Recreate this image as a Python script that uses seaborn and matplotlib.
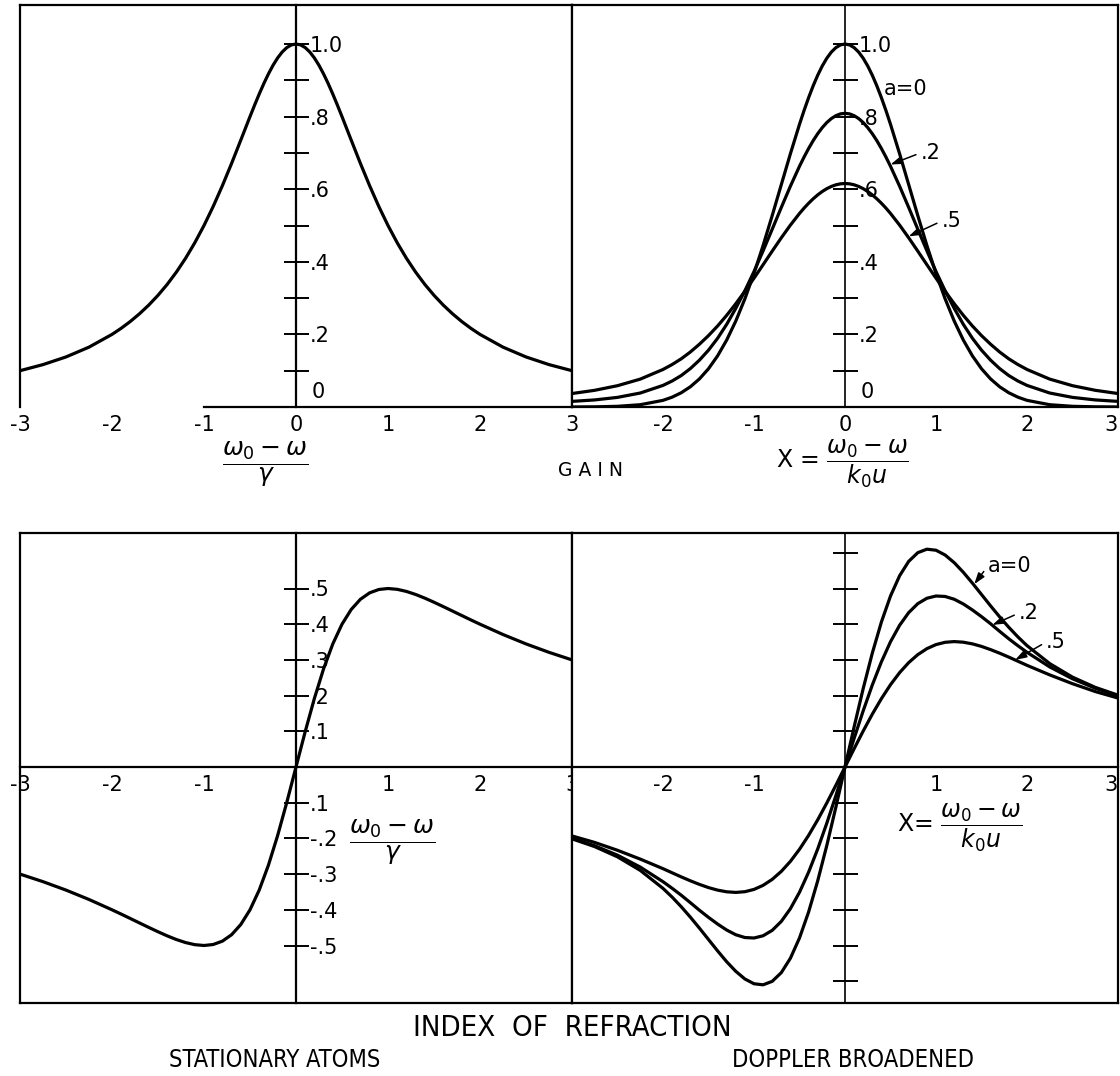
import numpy as np
import pandas as pd
import matplotlib
matplotlib.use("Agg")
import matplotlib.pyplot as plt
import seaborn as sns

# ---------------- data ----------------
# sample positions along the frequency axis
X_GAIN = [-3.0, -2.75, -2.5, -2.25, -2.0, -1.9, -1.8, -1.7, -1.6, -1.5, -1.4, -1.3, -1.2,
          -1.1, -1.0, -0.9, -0.8, -0.7, -0.6, -0.5, -0.45, -0.4, -0.35, -0.3, -0.25, -0.2,
          -0.15, -0.1, -0.05, 0.0, 0.05, 0.1, 0.15, 0.2, 0.25, 0.3, 0.35, 0.4, 0.45, 0.5,
          0.6, 0.7, 0.8, 0.9, 1.0, 1.1, 1.2, 1.3, 1.4, 1.5, 1.6, 1.7, 1.8, 1.9, 2.0, 2.25,
          2.5, 2.75, 3.0]
X_INDEX = [-3.0, -2.75, -2.5, -2.25, -2.0, -1.9, -1.8, -1.7, -1.6, -1.5, -1.4, -1.3, -1.2,
           -1.1, -1.0, -0.9, -0.8, -0.7, -0.6, -0.5, -0.4, -0.3, -0.2, -0.1, 0.0, 0.1, 0.2,
           0.3, 0.4, 0.5, 0.6, 0.7, 0.8, 0.9, 1.0, 1.1, 1.2, 1.3, 1.4, 1.5, 1.6, 1.7, 1.8,
           1.9, 2.0, 2.25, 2.5, 2.75, 3.0]

# stationary atoms - gain (upper left)
GAIN_STATIONARY = [0.1000, 0.1168, 0.1379, 0.1649, 0.2000, 0.2169, 0.2358, 0.2571, 0.2809,
                   0.3077, 0.3378, 0.3717, 0.4098, 0.4525, 0.5000, 0.5525, 0.6098, 0.6711,
                   0.7353, 0.8000, 0.8316, 0.8621, 0.8909, 0.9174, 0.9412, 0.9615, 0.9780,
                   0.9901, 0.9975, 1.0000, 0.9975, 0.9901, 0.9780, 0.9615, 0.9412, 0.9174,
                   0.8909, 0.8621, 0.8316, 0.8000, 0.7353, 0.6711, 0.6098, 0.5525, 0.5000,
                   0.4525, 0.4098, 0.3717, 0.3378, 0.3077, 0.2809, 0.2571, 0.2358, 0.2169,
                   0.2000, 0.1649, 0.1379, 0.1168, 0.1000]

# Doppler broadened - gain (upper right)
GAIN_A0 = [0.0001, 0.0005, 0.0019, 0.0063, 0.0183, 0.0271, 0.0392, 0.0556, 0.0773, 0.1054,
           0.1409, 0.1845, 0.2369, 0.2982, 0.3679, 0.4449, 0.5273, 0.6126, 0.6977, 0.7788,
           0.8167, 0.8521, 0.8847, 0.9139, 0.9394, 0.9608, 0.9778, 0.9900, 0.9975, 1.0000,
           0.9975, 0.9900, 0.9778, 0.9608, 0.9394, 0.9139, 0.8847, 0.8521, 0.8167, 0.7788,
           0.6977, 0.6126, 0.5273, 0.4449, 0.3679, 0.2982, 0.2369, 0.1845, 0.1409, 0.1054,
           0.0773, 0.0556, 0.0392, 0.0271, 0.0183, 0.0063, 0.0019, 0.0005, 0.0001]
GAIN_A02 = [0.0155, 0.0195, 0.0265, 0.0385, 0.0595, 0.0716, 0.0866, 0.1057, 0.1290, 0.1566,
            0.1893, 0.2278, 0.2719, 0.3203, 0.3731, 0.4303, 0.4897, 0.5497, 0.6083, 0.6632,
            0.6885, 0.7121, 0.7337, 0.7529, 0.7696, 0.7836, 0.7946, 0.8026, 0.8075, 0.8091,
            0.8075, 0.8026, 0.7946, 0.7836, 0.7696, 0.7529, 0.7337, 0.7121, 0.6885, 0.6632,
            0.6083, 0.5497, 0.4897, 0.4303, 0.3731, 0.3203, 0.2719, 0.2278, 0.1893, 0.1566,
            0.1290, 0.1057, 0.0866, 0.0716, 0.0595, 0.0385, 0.0265, 0.0195, 0.0155]
GAIN_A05 = [0.0371, 0.0460, 0.0587, 0.0768, 0.1034, 0.1170, 0.1327, 0.1514, 0.1729, 0.1967,
            0.2232, 0.2526, 0.2846, 0.3189, 0.3549, 0.3920, 0.4294, 0.4661, 0.5011, 0.5332,
            0.5479, 0.5613, 0.5735, 0.5843, 0.5937, 0.6015, 0.6076, 0.6121, 0.6148, 0.6157,
            0.6148, 0.6121, 0.6076, 0.6015, 0.5937, 0.5843, 0.5735, 0.5613, 0.5479, 0.5332,
            0.5011, 0.4661, 0.4294, 0.3920, 0.3549, 0.3189, 0.2846, 0.2526, 0.2232, 0.1967,
            0.1729, 0.1514, 0.1327, 0.1170, 0.1034, 0.0768, 0.0587, 0.0460, 0.0371]

# stationary atoms - index of refraction (lower left)
INDEX_STATIONARY = [-0.3000, -0.3212, -0.3448, -0.3711, -0.4000, -0.4121, -0.4245, -0.4370,
                    -0.4494, -0.4615, -0.4730, -0.4833, -0.4918, -0.4977, -0.5000, -0.4972,
                    -0.4878, -0.4698, -0.4412, -0.4000, -0.3448, -0.2752, -0.1923, -0.0990,
                    0.0000, 0.0990, 0.1923, 0.2752, 0.3448, 0.4000, 0.4412, 0.4698, 0.4878,
                    0.4972, 0.5000, 0.4977, 0.4918, 0.4833, 0.4730, 0.4615, 0.4494, 0.4370,
                    0.4245, 0.4121, 0.4000, 0.3711, 0.3448, 0.3212, 0.3000]

# Doppler broadened - index of refraction (lower right)
INDEX_A0 = [-0.2012, -0.2231, -0.2517, -0.2896, -0.3400, -0.3644, -0.3913, -0.4204, -0.4513,
            -0.4832, -0.5151, -0.5455, -0.5724, -0.5938, -0.6072, -0.6101, -0.6004, -0.5760,
            -0.5357, -0.4789, -0.4062, -0.3189, -0.2198, -0.1121, 0.0000, 0.1121, 0.2198,
            0.3189, 0.4062, 0.4789, 0.5357, 0.5760, 0.6004, 0.6101, 0.6072, 0.5938, 0.5724,
            0.5455, 0.5151, 0.4832, 0.4513, 0.4204, 0.3913, 0.3644, 0.3400, 0.2896, 0.2517,
            0.2231, 0.2012]
INDEX_A02 = [-0.1997, -0.2207, -0.2471, -0.2803, -0.3213, -0.3397, -0.3591, -0.3799, -0.4012,
             -0.4212, -0.4399, -0.4567, -0.4699, -0.4777, -0.4790, -0.4727, -0.4576, -0.4325,
             -0.3969, -0.3508, -0.2946, -0.2297, -0.1574, -0.0801, 0.0000, 0.0801, 0.1574,
             0.2297, 0.2946, 0.3508, 0.3969, 0.4325, 0.4576, 0.4727, 0.4790, 0.4777, 0.4699,
             0.4567, 0.4399, 0.4212, 0.4012, 0.3799, 0.3591, 0.3397, 0.3213, 0.2803, 0.2471,
             0.2207, 0.1997]
INDEX_A05 = [-0.1931, -0.2114, -0.2333, -0.2580, -0.2848, -0.2963, -0.3078, -0.3187, -0.3288,
             -0.3378, -0.3449, -0.3496, -0.3513, -0.3493, -0.3429, -0.3315, -0.3148, -0.2924,
             -0.2643, -0.2305, -0.1915, -0.1480, -0.1008, -0.0511, 0.0000, 0.0511, 0.1008,
             0.1480, 0.1915, 0.2305, 0.2643, 0.2924, 0.3148, 0.3315, 0.3429, 0.3493, 0.3513,
             0.3496, 0.3449, 0.3378, 0.3288, 0.3187, 0.3078, 0.2963, 0.2848, 0.2580, 0.2333,
             0.2114, 0.1931]

# tick labels
GAIN_TICKS = [0.1, 0.2, 0.3, 0.4, 0.5, 0.6, 0.7, 0.8, 0.9, 1.0]
GAIN_TICK_LABELS = ["", ".2", "", ".4", "", ".6", "", ".8", "", "1.0"]
IDX_TICKS_L = [-0.5, -0.4, -0.3, -0.2, -0.1, 0.1, 0.2, 0.3, 0.4, 0.5]
IDX_TICK_LABELS_L = ["-.5", "-.4", "-.3", "-.2", ".1", ".1", ".2", ".3", ".4", ".5"]
IDX_TICKS_R = [-0.6, -0.5, -0.4, -0.3, -0.2, -0.1, 0.1, 0.2, 0.3, 0.4, 0.5, 0.6]
X_TICKS_TL = [-3, -2, -1, 0, 1, 2, 3]
X_LABELS_TL = ["-3", "-2", "-1", "0", "1", "2", "3"]
X_TICKS_TR = [-2, -1, 0, 1, 2, 3]
X_LABELS_TR = ["-2", "-1", "0", "1", "2", "3"]
X_TICKS_BL = [-3, -2, -1, 1, 2, 3]
X_LABELS_BL = ["-3", "-2", "-1", "1", "2", "3"]
X_TICKS_BR = [-2, -1, 1, 2, 3]
X_LABELS_BR = ["-2", "-1", "1", "2", "3"]

# ---------------- style ----------------
sns.set_theme(style="white")
plt.rcParams['font.family'] = ['DejaVu Sans']
plt.rcParams['mathtext.fontset'] = 'dejavusans'
plt.rcParams.update({'text.color': 'black', 'axes.labelcolor': 'black',
                     'xtick.color': 'black', 'ytick.color': 'black'})
TITLE_FONT = ['DejaVu Sans Condensed', 'Liberation Sans Narrow', 'DejaVu Sans']

W, H = 1120, 1076
fig = plt.figure(figsize=(W / 100, H / 100), dpi=100)
fig.patch.set_facecolor('white')


def rect(x0, x1, y_top, y_bot):
    return [x0 / W, 1 - y_bot / H, (x1 - x0) / W, (y_bot - y_top) / H]


TOP_YLIM = (0.0, (407 - 5) / 363)
BOT_YLIM = (-(1003 - 767) / 357, (767 - 533) / 357)


def panel(r, ylim, frame_sides, yticks, ylabels, xticks, xlabels, center_lw=1.6):
    fr = fig.add_axes(r)
    fr.set_xticks([])
    fr.set_yticks([])
    fr.set_facecolor('white')
    for side, sp in fr.spines.items():
        sp.set_visible(side in frame_sides)
        sp.set_color('black')
        sp.set_linewidth(1.6)
    ax = fig.add_axes(r)
    ax.patch.set_alpha(0)
    ax.set_xlim(-3, 3)
    ax.set_ylim(*ylim)
    ax.spines['top'].set_visible(False)
    ax.spines['left'].set_visible(False)
    ax.spines['right'].set_position(('data', 0))
    ax.spines['bottom'].set_position(('data', 0))
    for s in ('right', 'bottom'):
        ax.spines[s].set_color('black')
        ax.spines[s].set_linewidth(1.6)
    ax.spines['right'].set_linewidth(center_lw)
    ax.yaxis.set_ticks_position('right')
    ax.set_yticks(yticks, labels=ylabels)
    ax.tick_params(axis='y', direction='inout', length=18, width=1.4, labelsize=15,
                   pad=1, colors='black', right=True, left=False,
                   labelright=True, labelleft=False)
    ax.set_xticks(xticks, labels=xlabels)
    ax.tick_params(axis='x', length=0, pad=6, labelsize=15, colors='black')
    ax.grid(False)
    return ax


def curve(ax, xs, ys):
    df = pd.DataFrame({'x': xs, 'y': ys})
    sns.lineplot(data=df, x='x', y='y', ax=ax, color='black', linewidth=2.3,
                 sort=False, estimator=None, legend=False)
    ax.set_xlabel('')
    ax.set_ylabel('')


# ---- upper left: gain, stationary atoms
ax_tl = panel(rect(20, 572, 5, 407), TOP_YLIM, ('left', 'top', 'right'),
              GAIN_TICKS, GAIN_TICK_LABELS, X_TICKS_TL, X_LABELS_TL)
ax_tl.spines['bottom'].set_bounds(-1.0, 3)
curve(ax_tl, X_GAIN, GAIN_STATIONARY)
ax_tl.text(0.17, 0.015, "0", fontsize=15, ha='left', va='bottom')

# ---- upper right: gain, Doppler broadened
ax_tr = panel(rect(572, 1118, 5, 407), TOP_YLIM, ('left', 'top', 'right'),
              GAIN_TICKS, GAIN_TICK_LABELS, X_TICKS_TR, X_LABELS_TR, center_lw=1.2)
ax_tr.get_xticklabels()[-1].set_ha('right')
curve(ax_tr, X_GAIN, GAIN_A0)
curve(ax_tr, X_GAIN, GAIN_A02)
curve(ax_tr, X_GAIN, GAIN_A05)
ax_tr.text(0.17, 0.015, "0", fontsize=15, ha='left', va='bottom')
ax_tr.text(0.43, 0.876, "a=0", fontsize=15, ha='left', va='center')
arrow = dict(arrowstyle='-|>,head_length=0.45,head_width=0.15', color='black', lw=1.1,
             relpos=(0, 0.5), shrinkA=1, shrinkB=0)
ax_tr.annotate(".2", xy=(0.50, 0.668), xytext=(0.83, 0.70), fontsize=15,
               ha='left', va='center', arrowprops=arrow)
ax_tr.annotate(".5", xy=(0.70, 0.470), xytext=(1.06, 0.512), fontsize=15,
               ha='left', va='center', arrowprops=arrow)

# ---- lower left: index of refraction, stationary atoms
ax_bl = panel(rect(20, 572, 533, 1003), BOT_YLIM, ('left', 'top', 'right', 'bottom'),
              IDX_TICKS_L, IDX_TICK_LABELS_L, X_TICKS_BL, X_LABELS_BL)
curve(ax_bl, X_INDEX, INDEX_STATIONARY)

# ---- lower right: index of refraction, Doppler broadened
ax_br = panel(rect(572, 1118, 533, 1003), BOT_YLIM, ('left', 'top', 'right', 'bottom'),
              IDX_TICKS_R, [""] * len(IDX_TICKS_R), X_TICKS_BR, X_LABELS_BR, center_lw=1.2)
ax_br.get_xticklabels()[-1].set_ha('right')
curve(ax_br, X_INDEX, INDEX_A0)
curve(ax_br, X_INDEX, INDEX_A02)
curve(ax_br, X_INDEX, INDEX_A05)
ax_br.annotate("a=0", xy=(1.42, 0.512), xytext=(1.57, 0.563), fontsize=15,
               ha='left', va='center', arrowprops=arrow)
ax_br.annotate(".2", xy=(1.62, 0.398), xytext=(1.91, 0.431), fontsize=15,
               ha='left', va='center', arrowprops=arrow)
ax_br.annotate(".5", xy=(1.87, 0.300), xytext=(2.21, 0.350), fontsize=15,
               ha='left', va='center', arrowprops=arrow)

# ---------------- free text ----------------
def ftext(x, y, s, **kw):
    fig.text(x / W, 1 - y / H, s, ha='center', va='center', color='black', **kw)


ftext(265, 464, r'$\dfrac{\omega_0 - \omega}{\gamma}$', fontsize=18)
ftext(590, 470, "G A I N", fontsize=13.5)
ftext(842, 464, r'X = $\dfrac{\omega_0 - \omega}{k_0 u}$', fontsize=17)
ftext(392, 842, r'$\dfrac{\omega_0 - \omega}{\gamma}$', fontsize=18)
ftext(960, 828, r'X= $\dfrac{\omega_0 - \omega}{k_0 u}$', fontsize=17)
ftext(572, 1028, "INDEX  OF  REFRACTION", fontsize=21, family=TITLE_FONT,
      fontstretch='condensed')
ftext(275, 1060, "STATIONARY ATOMS", fontsize=17, family=TITLE_FONT,
      fontstretch='condensed')
ftext(853, 1060, "DOPPLER BROADENED", fontsize=17, family=TITLE_FONT,
      fontstretch='condensed')

fig.savefig("out.png", dpi=100, facecolor='white')
